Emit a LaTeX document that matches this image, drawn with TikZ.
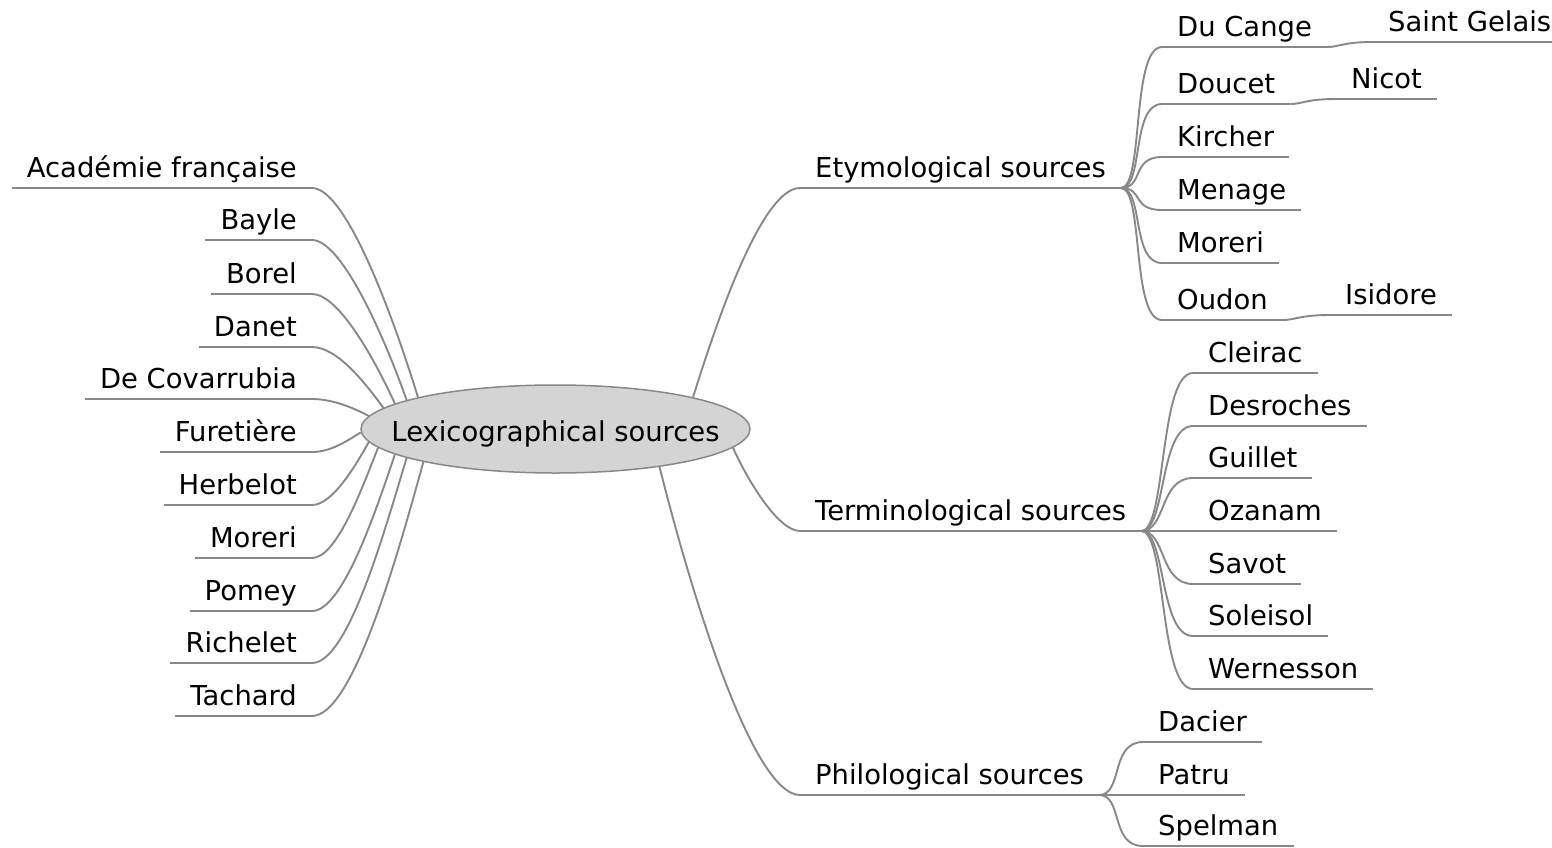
\documentclass[tikz,border=0pt]{standalone}
\usepackage{fontspec}
\setmainfont{DejaVu Sans}
\usetikzlibrary{shapes.geometric}
\definecolor{linegray}{RGB}{136,136,136}
\definecolor{rootfill}{RGB}{212,212,212}
\pgfdeclarelayer{bg}
\pgfsetlayers{bg,main}
\begin{document}
\begin{tikzpicture}[x=1pt,y=-1pt,
  topic/.style={font=\fontsize{27.4}{30}\selectfont, inner xsep=15pt, inner ysep=0pt, text depth=10.5pt},
  conn/.style={draw=linegray, line width=1.9pt},
  rootnode/.style={ellipse, fill=rootfill, draw=linegray, line width=1.5pt, minimum width=389pt, minimum height=88pt, inner sep=0pt, font=\fontsize{27.4}{30}\selectfont, text height=24pt, text depth=0pt}]
\useasboundingbox (0,0) rectangle (1552,847);

% root
\node[rootnode] (root) at (555.5,429) {\makebox[0pt]{Lexicographical sources}};

% left leaves
\node[topic, anchor=south east] (acad) at (312,188) {Académie française};
\node[topic, anchor=south east] (bayle) at (312,240) {Bayle};
\node[topic, anchor=south east] (borel) at (312,294) {Borel};
\node[topic, anchor=south east] (danet) at (312,347) {Danet};
\node[topic, anchor=south east] (covar) at (312,399) {De Covarrubia};
\node[topic, anchor=south east] (furet) at (312,452) {Furetière};
\node[topic, anchor=south east] (herb) at (312,505) {Herbelot};
\node[topic, anchor=south east] (morl) at (312,558) {Moreri};
\node[topic, anchor=south east] (pomey) at (312,611) {Pomey};
\node[topic, anchor=south east] (rich) at (312,663) {Richelet};
\node[topic, anchor=south east] (tach) at (312,716) {Tachard};

% right main branches
\node[topic, anchor=south west] (etym) at (800,188) {Etymological sources};
\node[topic, anchor=south west] (term) at (800,531) {Terminological sources};
\node[topic, anchor=south west] (phil) at (800,795) {Philological sources};

% etymological children
\node[topic, anchor=south west] (ducange) at (1162,47) {Du Cange};
\node[topic, anchor=south west] (doucet) at (1162,104) {Doucet};
\node[topic, anchor=south west] (kircher) at (1162,157) {Kircher};
\node[topic, anchor=south west] (menage) at (1162,210) {Menage};
\node[topic, anchor=south west] (morr) at (1162,263) {Moreri};
\node[topic, anchor=south west] (oudon) at (1162,320) {Oudon};
% grandchildren
\node[topic, anchor=south west] (saint) at (1373,42) {Saint Gelais};
\node[topic, anchor=south west] (nicot) at (1336,99) {Nicot};
\node[topic, anchor=south west] (isidore) at (1330,315) {Isidore};

% terminological children
\node[topic, anchor=south west] (cleirac) at (1193,373) {Cleirac};
\node[topic, anchor=south west] (desroches) at (1193,426) {Desroches};
\node[topic, anchor=south west] (guillet) at (1193,478) {Guillet};
\node[topic, anchor=south west] (ozanam) at (1193,531) {Ozanam};
\node[topic, anchor=south west] (savot) at (1193,584) {Savot};
\node[topic, anchor=south west] (soleisol) at (1193,636) {Soleisol};
\node[topic, anchor=south west] (wernesson) at (1193,689) {Wernesson};

% philological children
\node[topic, anchor=south west] (dacier) at (1143,742) {Dacier};
\node[topic, anchor=south west] (patru) at (1143,795) {Patru};
\node[topic, anchor=south west] (spelman) at (1143,846) {Spelman};

\begin{pgfonlayer}{bg}
\fill[white] (0,0) rectangle (1552,847);
% underlines
\foreach \n in {acad,bayle,borel,danet,covar,furet,herb,morl,pomey,rich,tach,
  etym,term,phil,ducange,doucet,kircher,menage,morr,oudon,saint,nicot,isidore,
  cleirac,desroches,guillet,ozanam,savot,soleisol,wernesson,dacier,patru,spelman}
  \draw[conn] (\n.south west) -- (\n.south east);

% left connectors
\draw[conn] (acad.south east)  .. controls +(34,0) and +(-24.9,-81.1) .. (root.167.3);
\draw[conn] (bayle.south east) .. controls +(30,0) and +(-21.9,-62.1) .. (root.169.5);
\draw[conn] (borel.south east) .. controls +(27,0) and +(-19.5,-42.5) .. (root.171.1);
\draw[conn] (danet.south east) .. controls +(25.6,0) and +(-17.2,-23.5) .. (root.173);
\draw[conn] (covar.south east) .. controls +(22,0) and +(-13.2,-6.9) .. (root.176.3);
\draw[conn] (furet.south east) .. controls +(20,0) and +(-11.75,6.9) .. (root.181.5);
\draw[conn] (herb.south east)  .. controls +(20.3,0) and +(-13.6,24.3) .. (root.184);
\draw[conn] (morl.south east)  .. controls +(24.5,0) and +(-16.5,42) .. (root.186.6);
\draw[conn] (pomey.south east) .. controls +(30.1,0) and +(-20.2,60.2) .. (root.189.4);
\draw[conn] (rich.south east)  .. controls +(35.4,0) and +(-23.7,78.7) .. (root.191.9);
\draw[conn] (tach.south east)  .. controls +(40.3,0) and +(-27,98) .. (root.194.4);

% right main connectors
\draw[conn] (root.13.1) .. controls +(25.1,-80.7) and +(-37.5,0) .. (etym.south west);
\draw[conn] (root.354.6) .. controls +(14.6,32.8) and +(-21.7,0) .. (term.south west);
\draw[conn] (root.340.5) .. controls +(31.7,126.6) and +(-47.3,0) .. (phil.south west);

% etymological children
\foreach \c in {ducange,doucet,kircher,menage,morr,oudon}
  \draw[conn] (etym.south east) .. controls +(23,0) and +(-31,0) .. (\c.south west);
\draw[conn] (ducange.south east) .. controls +(12,0) and +(-30,0) .. (saint.south west);
\draw[conn] (doucet.south east) .. controls +(12,0) and +(-30,0) .. (nicot.south west);
\draw[conn] (oudon.south east) .. controls +(12,0) and +(-30,0) .. (isidore.south west);

% terminological children
\foreach \c in {cleirac,desroches,guillet,ozanam,savot,soleisol,wernesson}
  \draw[conn] (term.south east) .. controls +(25,0) and +(-34,0) .. (\c.south west);

% philological children
\foreach \c in {dacier,patru,spelman}
  \draw[conn] (phil.south east) .. controls +(24,0) and +(-33,0) .. (\c.south west);
\end{pgfonlayer}
\end{tikzpicture}
\end{document}
